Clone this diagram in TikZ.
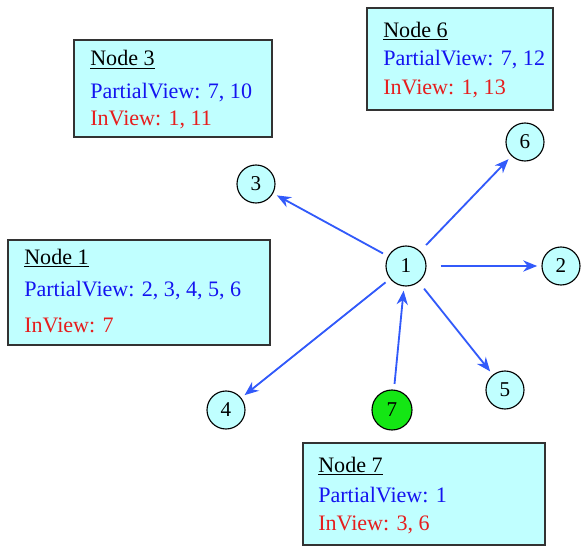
\documentclass[tikz,border=0pt]{standalone}
\usepackage{fontspec}
\setmainfont{Liberation Serif}
\usepackage{tikz}
\usetikzlibrary{arrows.meta}
\definecolor{peerfill}{RGB}{192,255,255}
\definecolor{newfill}{RGB}{20,230,20}
\definecolor{linkblue}{RGB}{50,90,250}
\definecolor{pvblue}{RGB}{20,20,240}
\definecolor{ivred}{RGB}{230,30,30}
\tikzstyle{peer} = [circle,draw=black,thick,fill=peerfill,minimum size=1cm,inner sep=0pt,font=\fontsize{15}{18}\selectfont]
\tikzstyle{view} = [draw=black!80,line width=1.3pt,fill=peerfill]
\tikzstyle{txt} = [anchor=base west,inner sep=0pt,font=\fontsize{15.7}{19}\selectfont]
\tikzstyle{link} = [draw=linkblue,line width=1.3pt,-{Stealth[length=10pt,width=8pt]},shorten >=3pt]

\begin{document}
\begin{tikzpicture}[x=0.025cm,y=-0.025cm]
  \useasboundingbox (0,0) rectangle (581,546);

  % view boxes
  \draw[view] (74,40) rectangle (272,137);
  \node[txt] (h3) at (90,66) {\underline{Node 3}};
  \node[txt,text=pvblue] (p3) at (90,98) {PartialView: 7, 10};
  \node[txt,text=ivred] (i3) at (90,125) {InView: 1, 11};

  \draw[view] (367,8) rectangle (553,110);
  \node[txt] (h6) at (383,37) {\underline{Node 6}};
  \node[txt,text=pvblue] (p6) at (383,66) {PartialView: 7, 12};
  \node[txt,text=ivred] (i6) at (383,95) {InView: 1, 13};

  \draw[view] (8,240) rectangle (270,345);
  \node[txt] (h1) at (24,264) {\underline{Node 1}};
  \node[txt,text=pvblue] (p1) at (24,296) {PartialView: 2, 3, 4, 5, 6};
  \node[txt,text=ivred] (i1) at (24,332) {InView: 7};

  \draw[view] (303,443) rectangle (545,545);
  \node[txt] (h7) at (318,472) {\underline{Node 7}};
  \node[txt,text=pvblue] (p7) at (318,502) {PartialView: 1};
  \node[txt,text=ivred] (i7) at (318,530) {InView: 3, 6};

  % peers
  \node[peer] (n1) at (406,266) {1};
  \node[peer,minimum size=0.95cm] (n2) at (561,266) {2};
  \node[peer,minimum size=0.95cm] (n3) at (256,184) {3};
  \node[peer,minimum size=0.95cm] (n4) at (226,410) {4};
  \node[peer,minimum size=0.95cm] (n5) at (505,390) {5};
  \node[peer,minimum size=0.95cm] (n6) at (525,142) {6};
  \node[peer,fill=newfill] (n7) at (392,410) {7};

  % links
  \draw[link,shorten <=10pt] (n1) -- (n2);
  \draw[link,shorten <=4pt] (n1) -- (n3);
  \draw[link,shorten <=4pt] (n1) -- (n4);
  \draw[link,shorten <=6pt] (n1) -- (n5);
  \draw[link,shorten <=6pt] (n1) -- (n6);
  \draw[link,shorten <=4pt] (n7) -- (n1);
\end{tikzpicture}
\end{document}
